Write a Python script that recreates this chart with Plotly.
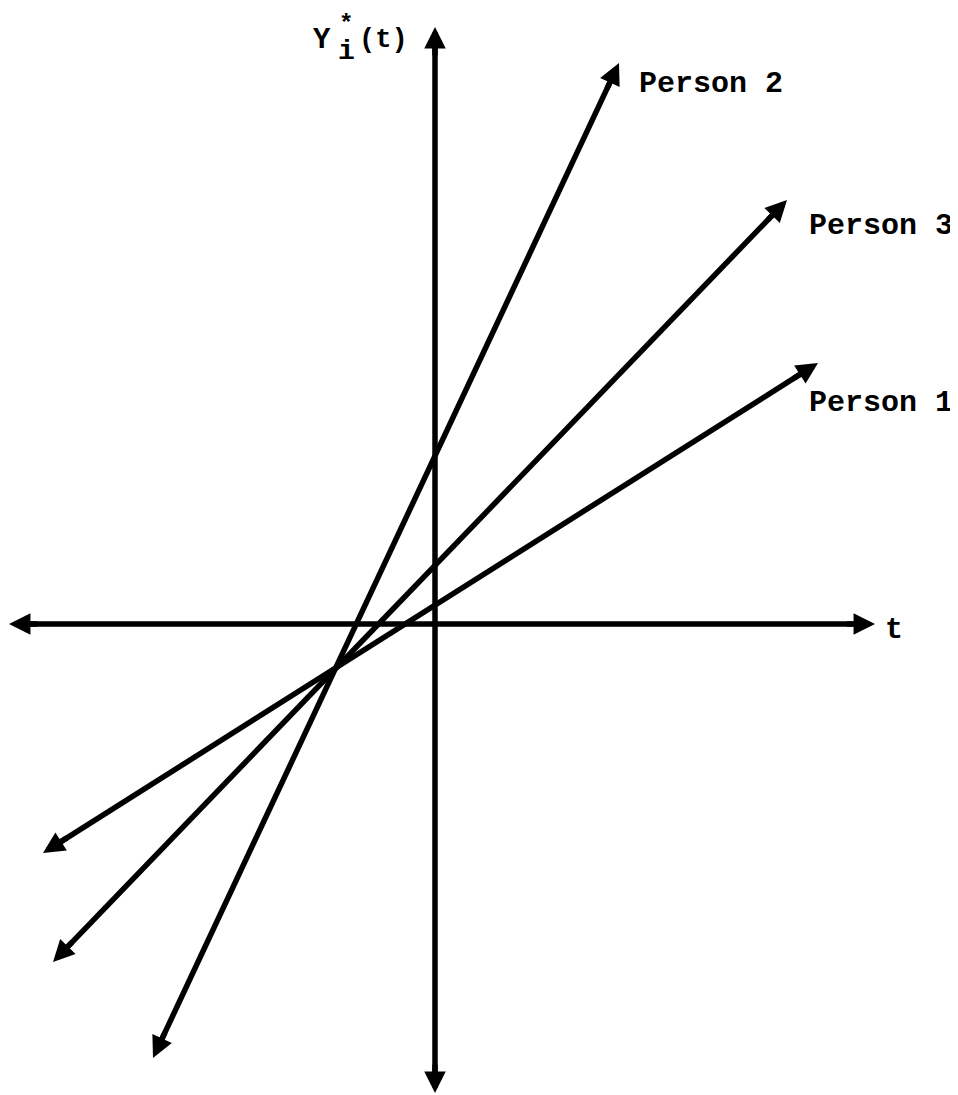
import plotly.graph_objects as go
import numpy as np

# ---- data (t, Y units; origin at axis crossing) ----
persons = ["Person 1", "Person 2", "Person 3"]
t_start = [-392, -282, -382]
t_end = [383, 184, 352]
y_start = [-229, -434, -338]
y_end = [261, 561, 424]

# axes extents
t_axis = [-426, 440]
y_axis = [-469, 597]

# label anchor positions
label_t = [372, 202, 372]
label_y = [221, 540, 398]

# the page has an 8px body margin; figure is sized so 1 unit = 1 px
X_RANGE = [-427, 523]
Y_RANGE = [-471, 616]

FONT = "Courier New, Liberation Mono, monospace"
LW = 5.5

fig = go.Figure()
annotations = []


def add_double_arrow(x0, y0, x1, y1):
    x0, y0, x1, y1 = map(float, (x0, y0, x1, y1))
    d = np.hypot(x1 - x0, y1 - y0)
    ux, uy = (x1 - x0) / d, (y1 - y0) / d
    back = 12.0
    fig.add_trace(go.Scatter(
        x=[x0 + ux * back, x1 - ux * back], y=[y0 + uy * back, y1 - uy * back],
        mode="lines", line=dict(color="black", width=LW),
        showlegend=False, hoverinfo="skip"))
    for (tx, ty, sx) in [((x1, y1, -1)), ((x0, y0, 1))]:
        annotations.append(dict(
            x=tx, y=ty, ax=tx + sx * ux * 30, ay=ty + sx * uy * 30,
            xref="x", yref="y", axref="x", ayref="y",
            showarrow=True, arrowhead=2, arrowsize=0.78, arrowwidth=LW,
            arrowcolor="black", standoff=0, text=""))


# axes
add_double_arrow(t_axis[0], 0, t_axis[1], 0)
add_double_arrow(0, y_axis[0], 0, y_axis[1])

# person lines
for i in range(3):
    add_double_arrow(t_start[i], y_start[i], t_end[i], y_end[i])

# labels
for i, name in enumerate(persons):
    annotations.append(dict(
        x=label_t[i], y=label_y[i], xref="x", yref="y", text=name,
        showarrow=False, xanchor="left", yanchor="middle",
        font=dict(family=FONT, size=30, color="black", weight="bold")))

annotations.append(dict(x=448, y=-6, xref="x", yref="y", text="t", showarrow=False,
                        xanchor="left", yanchor="middle",
                        font=dict(family=FONT, size=30, color="black", weight="bold")))

# Y_i^*(t) label
annotations.append(dict(x=-113, y=584, xref="x", yref="y", text="Y", showarrow=False,
                        xanchor="center", yanchor="middle",
                        font=dict(family=FONT, size=29, color="black", weight="bold")))
annotations.append(dict(x=-89, y=600, xref="x", yref="y", text="*", showarrow=False,
                        xanchor="center", yanchor="middle",
                        font=dict(family=FONT, size=24, color="black", weight="bold")))
annotations.append(dict(x=-89, y=573, xref="x", yref="y", text="i", showarrow=False,
                        xanchor="center", yanchor="middle",
                        font=dict(family=FONT, size=28, color="black", weight="bold")))
annotations.append(dict(x=-78, y=584, xref="x", yref="y", text="(t)", showarrow=False,
                        xanchor="left", yanchor="middle",
                        font=dict(family=FONT, size=27, color="black", weight="bold")))

fig.update_layout(
    width=950, height=1087,
    margin=dict(l=0, r=0, t=0, b=0),
    paper_bgcolor="white", plot_bgcolor="white",
    xaxis=dict(range=X_RANGE, visible=False, fixedrange=True),
    yaxis=dict(range=Y_RANGE, visible=False, fixedrange=True),
    annotations=annotations,
    showlegend=False,
)

fig.write_html("out.html")
